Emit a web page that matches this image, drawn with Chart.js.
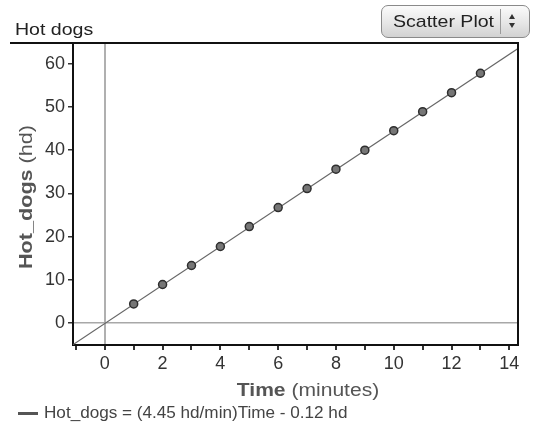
<!DOCTYPE html>
<html><head><meta charset="utf-8">
<script src="https://cdn.jsdelivr.net/npm/chart.js@4"></script>
<style>
html,body{margin:0;padding:0;background:#fff;}
#wrap{position:relative;width:543px;height:429px;font-family:"Liberation Sans",Arial,sans-serif;color:#333;overflow:hidden;}
canvas{position:absolute;left:0;top:0;}
.t{position:absolute;white-space:nowrap;line-height:1;}
#btn{position:absolute;left:381px;top:5px;width:149px;height:33px;border:1px solid #8a8a8a;border-radius:7px;
 background:linear-gradient(#fbfbfb,#e6e6e6 55%,#d2d2d2);box-sizing:border-box;}
#btn span{position:absolute;left:11px;top:7px;font-size:17px;line-height:1;color:#222;transform:scaleX(1.15);transform-origin:left center;}
#btn .sep{position:absolute;left:118px;top:3px;width:1px;height:25px;background:#9a9a9a;}
#btn .up{position:absolute;left:127px;top:8px;width:0;height:0;border-left:3px solid transparent;border-right:3px solid transparent;border-bottom:5px solid #333;}
#btn .dn{position:absolute;left:127px;top:17px;width:0;height:0;border-left:3px solid transparent;border-right:3px solid transparent;border-top:5px solid #333;}
</style></head>
<body><div id="wrap">
<canvas id="c" width="543" height="429"></canvas>
<div class="t" style="left:15px;top:21px;font-size:17px;color:#222;transform:scaleX(1.15);transform-origin:left center;">Hot dogs</div>
<div id="btn"><span>Scatter Plot</span><div class="sep"></div><div class="up"></div><div class="dn"></div></div>
<div class="t" style="left:308px;top:390px;transform:translate(-50%,-50%) scaleX(1.17);font-size:18px;color:#555;"><b>Time</b> (minutes)</div>
<div class="t" style="left:26px;top:197px;transform:translate(-50%,-50%) rotate(-90deg) scaleX(1.2);font-size:18px;color:#555;"><b>Hot_dogs</b> (hd)</div>
<div style="position:absolute;left:18px;top:412px;width:20px;height:3px;background:#555;"></div>
<div class="t" style="left:44px;top:413px;transform:translateY(-50%) scaleX(1.07);transform-origin:left center;font-size:16px;color:#444;">Hot_dogs = (4.45 hd/min)Time - 0.12 hd</div>
</div>
<script>
const timeMinutes = [1,2,3,4,5,6,7,8,9,10,11,12,13];
const hotDogs = [4.4,8.9,13.3,17.7,22.3,26.7,31.1,35.6,40.0,44.5,48.9,53.3,57.8];
const fitSlope = 4.45;
const fitIntercept = -0.12;
const xRange = [-1.1, 14.3];
const yRange = [-5.1, 64.8];

const fitLine = xRange.map(x => ({x: x, y: fitSlope * x + fitIntercept}));
const pts = timeMinutes.map((t, i) => ({x: t, y: hotDogs[i]}));

const framePlugin = {
  id: 'frame',
  afterDraw(chart) {
    const {ctx, chartArea: a} = chart;
    ctx.save();
    ctx.strokeStyle = '#111';
    ctx.lineWidth = 2;
    ctx.beginPath();
    ctx.moveTo(10, a.top);
    ctx.lineTo(a.right, a.top);
    ctx.lineTo(a.right, a.bottom);
    ctx.stroke();
    ctx.restore();
  }
};

new Chart(document.getElementById('c'), {
  type: 'scatter',
  data: {
    datasets: [
      {data: pts, order: 0, pointRadius: 4, pointHoverRadius: 4, backgroundColor: '#767676', borderColor: '#2e2e2e', borderWidth: 1.5, showLine: false},
      {data: fitLine, order: 1, showLine: true, pointRadius: 0, borderColor: '#666', borderWidth: 1.2, fill: false}
    ]
  },
  options: {
    responsive: false, animation: false,
    layout: {padding: {left: 0, right: 25, top: 43, bottom: 0}},
    plugins: {legend: {display: false}, tooltip: {enabled: false}},
    scales: {
      x: {
        type: 'linear', min: xRange[0], max: xRange[1],
        afterFit(s) { s.height = 84; },
        border: {display: true, color: '#111', width: 2},
        grid: {color: c => c.tick && c.tick.value === 0 ? '#b0b0b0' : 'transparent', lineWidth: 2, tickColor: '#333', tickLength: 5, drawTicks: true},
        ticks: {stepSize: 1, includeBounds: false, autoSkip: false, maxRotation: 0, color: '#333', font: {family: '"Liberation Sans", Arial', size: 18},
          padding: 3, callback: v => (v % 2 === 0 ? String(v) : '')}
      },
      y: {
        type: 'linear', min: yRange[0], max: yRange[1],
        afterFit(s) { s.width = 73; },
        border: {display: true, color: '#111', width: 2},
        grid: {color: c => c.tick && c.tick.value === 0 ? '#a8a8a8' : 'transparent', lineWidth: 1.5, tickColor: '#333', tickLength: 5, drawTicks: true},
        ticks: {stepSize: 10, includeBounds: false, color: '#333', font: {family: '"Liberation Sans", Arial', size: 18}, padding: 3}
      }
    }
  },
  plugins: [framePlugin]
});
</script>
</body></html>
